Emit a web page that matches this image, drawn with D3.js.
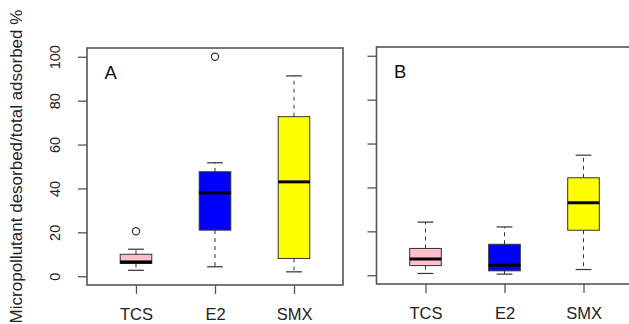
<!DOCTYPE html>
<html>
<head>
<meta charset="utf-8">
<script src="https://cdn.jsdelivr.net/npm/d3@7"></script>
<style>
  body { margin: 0; background: #fff; }
  svg { display: block; font-family: "Liberation Sans", Arial, sans-serif; }
</style>
</head>
<body>
<svg id="chart" width="629" height="324"></svg>
<script>
// categories and tick labels
const categories = ['TCS', 'E2', 'SMX']
const boxColors = ['#ffc0cb', '#0000ff', '#ffff00']
const yTicks = [0, 20, 40, 60, 80, 100]

// panel A: whisker ends, quartiles, medians, outliers
const aLow = [2.7, 4.3, 2.0]
const aQ1 = [5.8, 21.0, 8.1]
const aMed = [6.5, 38.0, 43.0]
const aQ3 = [10.0, 47.6, 72.7]
const aHigh = [12.3, 51.7, 91.3]
const aOut = [[20.5], [100], []]

// panel B
const bLow = [0.8, 0.5, 2.6]
const bQ1 = [4.4, 2.0, 20.5]
const bMed = [7.4, 4.6, 33.0]
const bQ3 = [12.2, 14.1, 44.4]
const bHigh = [24.2, 22.0, 54.7]
const bOut = [[], [], []]

const svg = d3.select('#chart')
const frameColor = '#555'

const panels = [
  { label: 'A', left: 87, top: 48, low: aLow, q1: aQ1, med: aMed, q3: aQ3, high: aHigh, out: aOut, yLabels: true },
  { label: 'B', left: 376.5, top: 47, low: bLow, q1: bQ1, med: bMed, q3: bQ3, high: bHigh, out: bOut, yLabels: false }
]
const panelW = 256
const panelH = 237

panels.forEach(p => {
  const x = d3.scaleLinear().domain([0.38, 3.62]).range([p.left, p.left + panelW])
  const y = d3.scaleLinear().domain([-4, 104]).range([p.top + panelH, p.top])
  const boxW = x(1.4) - x(1)
  const capW = boxW / 2

  // y axis (labels rotated like R's default las=0)
  const yAxis = d3.axisLeft(y).tickValues(yTicks).tickSize(9)
    .tickFormat(p.yLabels ? d3.format('d') : '')
  const gy = svg.append('g').attr('transform', `translate(${p.left},0)`).call(yAxis)
  gy.select('.domain').remove()
  gy.selectAll('line').attr('stroke', frameColor).attr('stroke-width', 1.3)
  gy.selectAll('text')
    .attr('font-size', 14.5).attr('fill', '#222')
    .attr('text-anchor', 'middle')
    .attr('x', 0).attr('y', 0).attr('dy', '0.35em')
    .attr('transform', 'translate(-32,0) rotate(-90)')

  // x axis
  const xAxis = d3.axisBottom(x).tickValues([1, 2, 3]).tickSize(9).tickPadding(14)
    .tickFormat((d, i) => categories[i])
  const gx = svg.append('g').attr('transform', `translate(0,${p.top + panelH})`).call(xAxis)
  gx.select('.domain').remove()
  gx.selectAll('line').attr('stroke', frameColor).attr('stroke-width', 1.3)
  gx.selectAll('text').attr('font-size', 16.5).attr('fill', '#222')

  // boxes
  categories.forEach((c, i) => {
    const cx = x(i + 1)
    const g = svg.append('g')
    // whiskers
    g.append('line').attr('x1', cx).attr('x2', cx).attr('y1', y(p.q3[i])).attr('y2', y(p.high[i]))
      .attr('stroke', '#333').attr('stroke-dasharray', '4,4')
    g.append('line').attr('x1', cx).attr('x2', cx).attr('y1', y(p.q1[i])).attr('y2', y(p.low[i]))
      .attr('stroke', '#333').attr('stroke-dasharray', '4,4')
    // caps
    ;[p.high[i], p.low[i]].forEach(v => {
      g.append('line').attr('x1', cx - capW / 2).attr('x2', cx + capW / 2)
        .attr('y1', y(v)).attr('y2', y(v)).attr('stroke', '#333').attr('stroke-width', 1.2)
    })
    // box
    g.append('rect').attr('x', cx - boxW / 2).attr('width', boxW)
      .attr('y', y(p.q3[i])).attr('height', y(p.q1[i]) - y(p.q3[i]))
      .attr('fill', boxColors[i]).attr('stroke', '#333').attr('stroke-width', 1)
    // median
    g.append('line').attr('x1', cx - boxW / 2).attr('x2', cx + boxW / 2)
      .attr('y1', y(p.med[i])).attr('y2', y(p.med[i]))
      .attr('stroke', '#000').attr('stroke-width', 3)
    // outliers
    g.selectAll('circle').data(p.out[i]).enter().append('circle')
      .attr('cx', cx).attr('cy', d => y(d)).attr('r', 3.6)
      .attr('fill', 'none').attr('stroke', '#333').attr('stroke-width', 1.2)
  })

  // frame
  svg.append('rect').attr('x', p.left).attr('y', p.top).attr('width', panelW).attr('height', panelH)
    .attr('fill', 'none').attr('stroke', frameColor).attr('stroke-width', 1.6)

  // panel letter
  svg.append('text').attr('x', p.left + 17.5).attr('y', p.top + 31)
    .attr('font-size', 18.5).attr('fill', '#111').text(p.label)
})

// y axis title
svg.append('text')
  .attr('transform', 'translate(16,166.5) rotate(-90)')
  .attr('text-anchor', 'middle').attr('dy', '0.35em')
  .attr('font-size', 17).attr('fill', '#222')
  .text('Micropollutant desorbed/total adsorbed %')
</script>
</body>
</html>
